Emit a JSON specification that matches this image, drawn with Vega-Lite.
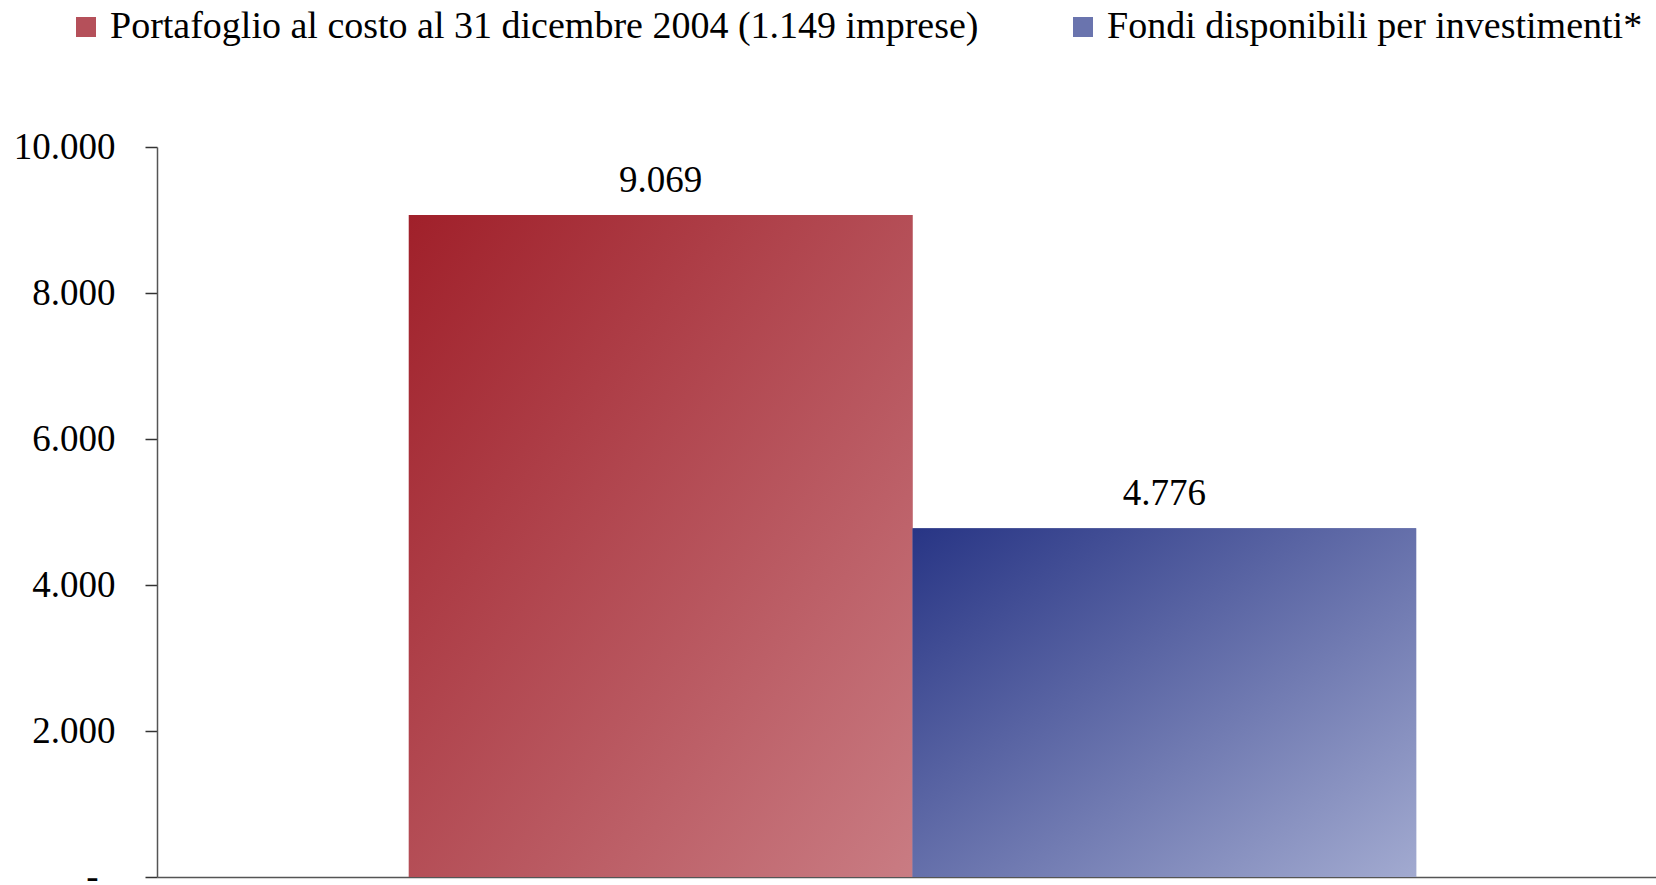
{
  "$schema": "https://vega.github.io/schema/vega-lite/v6.json",
  "width": 1511,
  "height": 730,
  "autosize": {"type": "none"},
  "padding": {"left": 157, "top": 147, "right": 0, "bottom": 8},
  "background": "white",
  "config": {
    "view": {"stroke": null},
    "font": "Liberation Serif",
    "locale": {"number": {"decimal": ",", "thousands": ".", "grouping": [3], "currency": ["€", ""]}}
  },
  "data": {
    "values": [
      {"serie": "Portafoglio al costo al 31 dicembre 2004 (1.149 imprese)", "valore": 9069},
      {"serie": "Fondi disponibili per investimenti*", "valore": 4776}
    ]
  },
  "encoding": {
    "x": {
      "field": "serie", "type": "nominal", "sort": null,
      "scale": {"paddingInner": 0, "paddingOuter": 0.5},
      "axis": {"title": null, "labels": false, "ticks": false, "domainColor": "#555555", "domainWidth": 1.5}
    },
    "y": {
      "field": "valore", "type": "quantitative",
      "scale": {"domain": [0, 10000], "nice": false},
      "axis": {
        "title": null, "grid": false,
        "values": [0, 2000, 4000, 6000, 8000, 10000],
        "tickSize": 12, "tickColor": "#333333", "tickWidth": 1.5,
        "domainColor": "#555555", "domainWidth": 1.5,
        "labelPadding": {"condition": {"test": "datum.value === 0", "value": 47}, "value": 30},
        "labelFontSize": 37, "labelColor": "black", "labelFont": "Liberation Serif",
        "format": ",.0f",
        "labelExpr": "datum.value === 0 ? '-' : datum.label"
      }
    }
  },
  "layer": [
    {
      "mark": {"type": "bar"},
      "encoding": {
        "color": {
          "field": "serie", "type": "nominal", "sort": null,
          "scale": {"range": ["#B5505A", "#6A74AE"]},
          "legend": {
            "title": null, "orient": "none", "legendX": -90, "legendY": -139,
            "direction": "horizontal", "symbolType": "square", "symbolSize": 400,
            "symbolStrokeWidth": 0, "symbolOpacity": 1, "labelFontSize": 38, "labelFont": "Liberation Serif",
            "labelColor": "black", "labelLimit": 2000, "labelOffset": 5, "columnPadding": 85
          }
        }
      }
    },
    {
      "transform": [{"filter": {"field": "serie", "equal": "Portafoglio al costo al 31 dicembre 2004 (1.149 imprese)"}}],
      "mark": {"type": "bar", "color": {"gradient": "linear", "x1": 0, "y1": 0, "x2": 1, "y2": 1, "stops": [{"offset": 0, "color": "#A0202A"}, {"offset": 1, "color": "#C97C83"}]}},
      "encoding": {}
    },
    {
      "transform": [{"filter": {"field": "serie", "equal": "Fondi disponibili per investimenti*"}}],
      "mark": {"type": "bar", "color": {"gradient": "linear", "x1": 0, "y1": 0, "x2": 1, "y2": 1, "stops": [{"offset": 0, "color": "#283585"}, {"offset": 1, "color": "#A2AAD0"}]}},
      "encoding": {}
    },
    {
      "mark": {"type": "text", "baseline": "bottom", "dy": -15, "fontSize": 37, "font": "Liberation Serif", "color": "black"},
      "encoding": {
        "text": {"field": "valore", "type": "quantitative", "format": ",.0f"}
      }
    }
  ]
}
